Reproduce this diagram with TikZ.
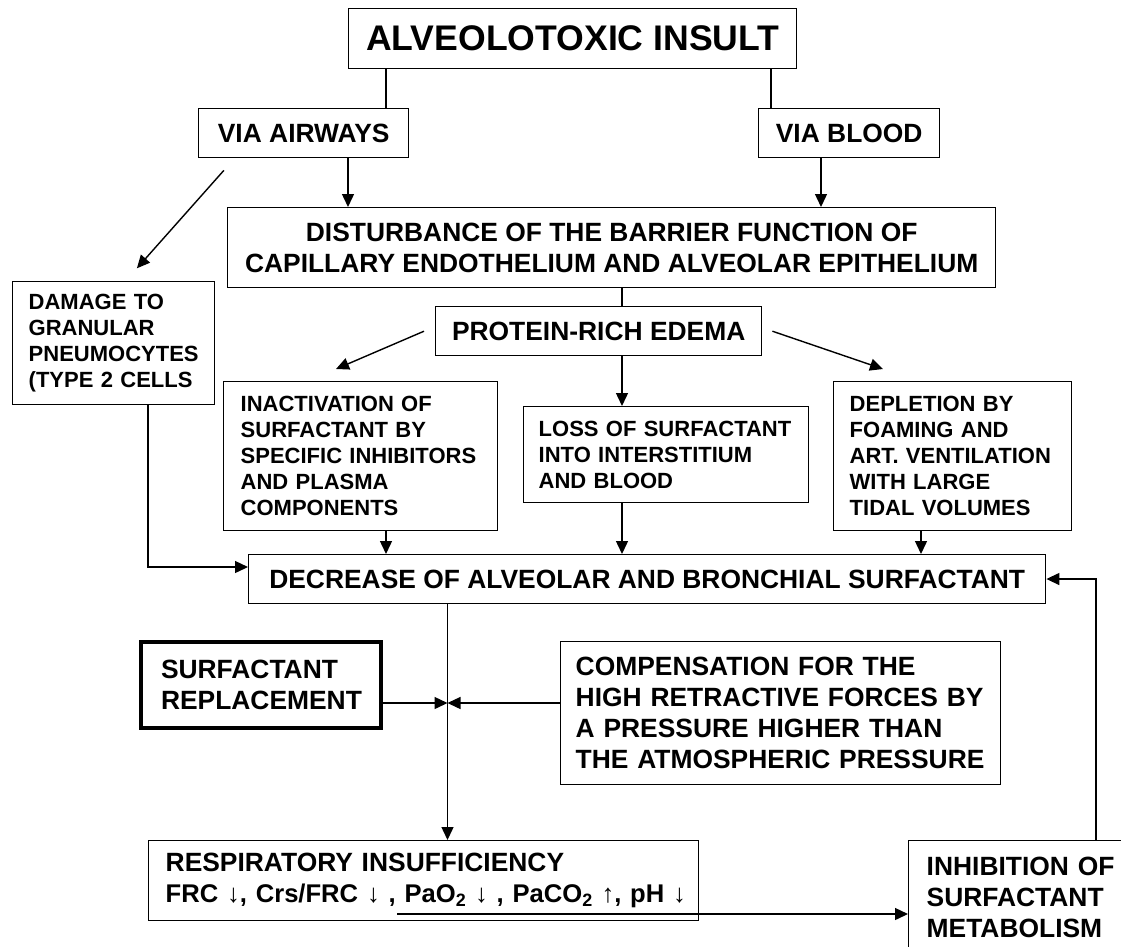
\documentclass[tikz,border=0pt]{standalone}
\usepackage{fontspec}
\setmainfont{Liberation Sans}
\usetikzlibrary{arrows.meta}
\newcommand{\arrdown}{{\mdseries ↓}}
\newcommand{\arrup}{{\mdseries ↑}}

\begin{document}
\begin{tikzpicture}[x=1pt,y=-1pt,
  box/.style={draw,line width=1.4pt,inner sep=0pt,anchor=north west,align=center,
    font=\fontsize{26.4}{31}\selectfont\bfseries},
  lbox/.style={box,align=left,inner xsep=17pt},
  small/.style={font=\fontsize{22}{26}\selectfont\bfseries},
  link/.style={line width=1.4pt},
  arrow/.style={link,-{Triangle[length=13pt,width=12pt]}}]
\fill[white] (0,0) rectangle (1121,946);
\clip (0,0) rectangle (1121,946);
% boxes
\node[box,minimum width=448pt,minimum height=60pt,font=\fontsize{35.6}{40}\selectfont\bfseries] (insult) at (348,8) {ALVEOLOTOXIC INSULT};
\node[box,minimum width=210pt,minimum height=49pt] (airways) at (198,108) {VIA AIRWAYS};
\node[box,minimum width=181pt,minimum height=49pt] (blood) at (758,108) {VIA BLOOD};
\node[box,minimum width=768pt,minimum height=80pt] (barrier) at (227,207)
  {DISTURBANCE OF THE BARRIER FUNCTION OF\\CAPILLARY ENDOTHELIUM AND ALVEOLAR EPITHELIUM};
\node[box,minimum width=326pt,minimum height=49pt] (edema) at (435,306) {PROTEIN-RICH EDEMA};
\node[lbox,small,inner xsep=16pt,text width=170pt,minimum height=123pt] (damage) at (12,281)
  {DAMAGE TO\\GRANULAR\\PNEUMOCYTES\\(TYPE 2 CELLS};
\node[lbox,small,text width=240pt,minimum height=149pt] (inact) at (223,381)
  {INACTIVATION OF\\SURFACTANT BY\\SPECIFIC INHIBITORS\\AND PLASMA\\COMPONENTS};
\node[lbox,small,inner xsep=15pt,text width=255pt,minimum height=96pt] (loss) at (523,406)
  {LOSS OF SURFACTANT\\INTO INTERSTITIUM\\AND BLOOD};
\node[lbox,small,inner xsep=16pt,text width=206pt,minimum height=149pt] (depl) at (833,381)
  {DEPLETION BY\\FOAMING AND\\ART. VENTILATION\\WITH LARGE\\TIDAL VOLUMES};
\node[box,minimum width=797pt,minimum height=49pt] (decrease) at (248,554)
  {DECREASE OF ALVEOLAR AND BRONCHIAL SURFACTANT};
\node[lbox,line width=4pt,inner xsep=20pt,text width=200pt,minimum height=86pt] (repl) at (139,640)
  {SURFACTANT\\REPLACEMENT};
\node[lbox,inner xsep=15pt,text width=410pt,minimum height=143pt] (comp) at (560,641)
  {COMPENSATION FOR THE\\HIGH RETRACTIVE FORCES BY\\A PRESSURE HIGHER THAN\\THE ATMOSPHERIC PRESSURE};
\node[lbox,text width=516pt,minimum height=80pt] (resp) at (148,840)
  {RESPIRATORY INSUFFICIENCY\\\mbox{\fontsize{25.6}{31}\selectfont FRC \arrdown, Crs/FRC \arrdown\ , PaO\textsubscript{2} \arrdown\ , PaCO\textsubscript{2} \arrup, pH \arrdown}};
\node[lbox,inner xsep=18pt,text width=204pt,minimum height=113pt] (inhib) at (908,840)
  {INHIBITION OF\\SURFACTANT\\METABOLISM};
% free ends
\coordinate (inact-in) at (336,369);
\coordinate (depl-in) at (883,369);
\coordinate (junction) at (447.5,703);
\coordinate (resp-out) at (397,914);
% connectors
\draw[link] (insult.south -| 386,0) -- (airways.north -| 386,0);
\draw[link] (insult.south -| 771,0) -- (blood.north -| 771,0);
\draw[arrow] (airways.south -| 348,0) -- (barrier.north -| 348,0);
\draw[arrow] (blood.south -| 821,0) -- (barrier.north -| 821,0);
\draw[arrow,shorten <=16pt,shorten >=17pt] (airways.south -| 234.5,0) -- (damage.north -| 125.6,0);
\draw[link] (barrier.south -| 622,0) -- (edema.north -| 622,0);
\draw[arrow] ([xshift=-11pt]edema.west) -- (inact-in);
\draw[arrow] ([xshift=10pt]edema.east) -- (depl-in);
\draw[arrow] (edema.south -| 622,0) -- (loss.north -| 622,0);
\draw[arrow] (inact.south -| 386,0) -- (decrease.north -| 386,0);
\draw[arrow] (loss.south -| 622,0) -- (decrease.north -| 622,0);
\draw[arrow] (depl.south -| 921,0) -- (decrease.north -| 921,0);
\draw[arrow] (damage.south -| 148,0) |- (decrease.west |- 0,567);
\draw[arrow] (inhib.north -| 1096,0) |- (decrease.east |- 0,579);
\draw[arrow] (decrease.south -| junction) -- (resp.north -| junction);
\draw[arrow] (repl.east |- junction) -- (junction);
\draw[arrow] (comp.west |- junction) -- (junction);
\draw[arrow] (resp-out) -- (resp-out -| inhib.west);
\end{tikzpicture}
\end{document}
